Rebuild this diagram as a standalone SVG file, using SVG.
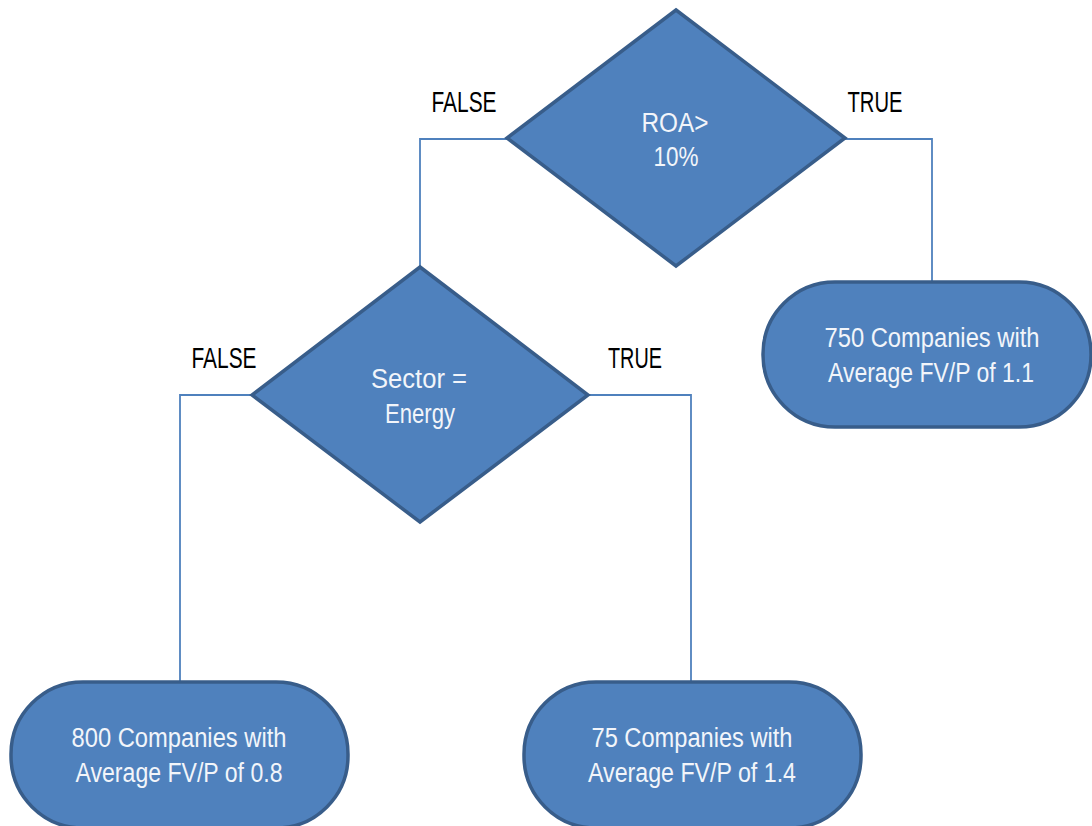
<svg xmlns="http://www.w3.org/2000/svg" width="1092" height="826" viewBox="0 0 1092 826">
<style>
.shape{fill:#4f81bd;stroke:#385d8a;stroke-width:3.5}
.conn{fill:none;stroke:#4f81bd;stroke-width:1.8}
.t{font-family:"Liberation Sans",Arial,sans-serif;font-size:27px;fill:#f2f5fa;text-anchor:middle}
.lbl{font-family:"Liberation Sans",Arial,sans-serif;font-size:29px;fill:#000;text-anchor:middle}
</style>
<rect width="1092" height="826" fill="#fff"/>
<g id="connectors">
<polyline class="conn" points="507,139 420,139 420,267"/>
<polyline class="conn" points="845,139 932,139 932,282"/>
<polyline class="conn" points="252,395 180,395 180,682"/>
<polyline class="conn" points="588,395 691,395 691,682"/>
</g>
<g id="roa">
<polygon class="shape" points="676,10 845,138 676,266 507,138"/>
<text class="t" x="675" y="132" textLength="67" lengthAdjust="spacingAndGlyphs">ROA&gt;</text>
<text class="t" x="676" y="166" textLength="45" lengthAdjust="spacingAndGlyphs">10%</text>
</g>
<g id="sector">
<polygon class="shape" points="420,267 588,395 420,522 252,395"/>
<text class="t" x="419" y="388" textLength="96" lengthAdjust="spacingAndGlyphs">Sector =</text>
<text class="t" x="420" y="423" textLength="70" lengthAdjust="spacingAndGlyphs">Energy</text>
</g>
<g id="label-false-1"><text class="lbl" x="464" y="112" textLength="65" lengthAdjust="spacingAndGlyphs">FALSE</text></g>
<g id="label-true-1"><text class="lbl" x="875" y="112" textLength="55" lengthAdjust="spacingAndGlyphs">TRUE</text></g>
<g id="label-false-2"><text class="lbl" x="224" y="368" textLength="65" lengthAdjust="spacingAndGlyphs">FALSE</text></g>
<g id="label-true-2"><text class="lbl" x="635" y="368" textLength="54" lengthAdjust="spacingAndGlyphs">TRUE</text></g>
<g id="leaf-750">
<rect class="shape" x="763" y="282" width="328" height="145" rx="72" ry="72"/>
<text class="t" x="932" y="347" textLength="215" lengthAdjust="spacingAndGlyphs">750 Companies with</text>
<text class="t" x="931" y="382" textLength="206" lengthAdjust="spacingAndGlyphs">Average FV/P of 1.1</text>
</g>
<g id="leaf-800">
<rect class="shape" x="11" y="682" width="337" height="146" rx="72" ry="72"/>
<text class="t" x="179" y="747" textLength="215" lengthAdjust="spacingAndGlyphs">800 Companies with</text>
<text class="t" x="179" y="782" textLength="207" lengthAdjust="spacingAndGlyphs">Average FV/P of 0.8</text>
</g>
<g id="leaf-75">
<rect class="shape" x="524" y="682" width="337" height="146" rx="72" ry="72"/>
<text class="t" x="692" y="747" textLength="201" lengthAdjust="spacingAndGlyphs">75 Companies with</text>
<text class="t" x="692" y="782" textLength="208" lengthAdjust="spacingAndGlyphs">Average FV/P of 1.4</text>
</g>
</svg>
